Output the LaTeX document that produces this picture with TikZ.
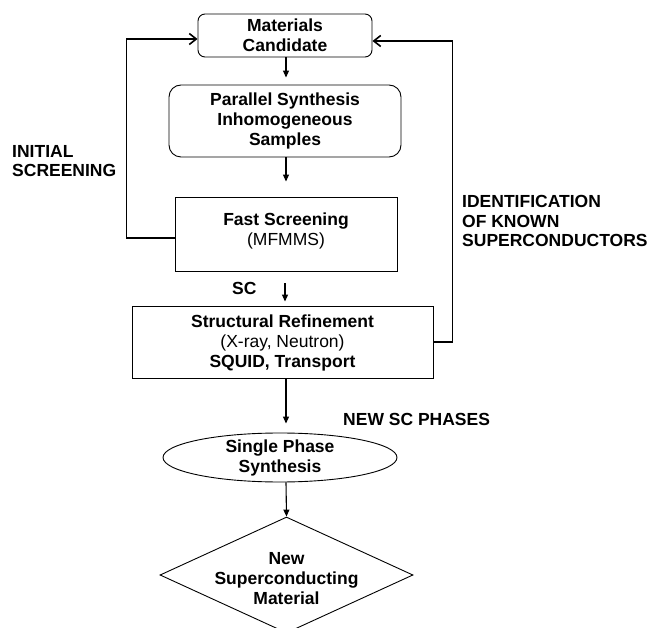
\documentclass[tikz,border=0pt]{standalone}
\usepackage{fontspec}
\setmainfont{Liberation Sans}
\usetikzlibrary{shapes.geometric,arrows.meta}
\tikzset{
  txt/.style={font=\fontsize{17.5}{20}\selectfont\bfseries, align=center, inner sep=0pt},
  lbl/.style={font=\fontsize{17.5}{19.5}\selectfont\bfseries, align=left, inner sep=0pt},
  boxshape/.style={draw, line width=0.9pt, inner sep=0pt, align=center,
    font=\fontsize{17.5}{20}\selectfont\bfseries},
  flow/.style={line width=1.1pt, -{Triangle[length=7pt,width=6pt]}},
  loop/.style={line width=1.8pt, -{Straight Barb[length=7pt,width=11pt,line width=1.6pt]}},
}
\begin{document}
\begin{tikzpicture}[x=1pt,y=-1pt]
\useasboundingbox (0,0) rectangle (651,628);
% boxes
\node[boxshape, rounded corners=7pt, minimum width=174pt, minimum height=43pt] (mc) at (285,35.5) {Materials\\Candidate};
\node[boxshape, rounded corners=12pt, minimum width=232pt, minimum height=72pt] (ps) at (285,121) {Parallel Synthesis\\Inhomogeneous\\Samples};
\node[boxshape, minimum width=222pt, minimum height=74pt] (fs) at (286,234) {};
\node[txt] at (286,231) {Fast Screening\\\mdseries (MFMMS)};
\node[boxshape, minimum width=301pt, minimum height=72pt] (sr) at (282.5,342) {};
\node[txt] at (282.5,343) {Structural Refinement\\\mdseries (X-ray, Neutron)\\SQUID, Transport};
\node[draw, line width=0.9pt, ellipse, minimum width=234pt, minimum height=49pt, inner sep=0pt] (sp) at (280,457.5) {};
\node[txt] at (280,457.5) {Single Phase\\Synthesis};
\node[draw, line width=0.9pt, diamond, minimum width=253pt, minimum height=116pt, inner sep=0pt] (nm) at (286.5,575) {};
\node[txt] at (286.5,579) {New\\Superconducting\\Material};
% labels
\node[lbl, anchor=north west] (lInit) at (12,145) {INITIAL\\SCREENING};
\node[lbl, anchor=north west] (lIdent) at (462,195.5) {IDENTIFICATION\\OF KNOWN\\SUPERCONDUCTORS};
\node[lbl, anchor=base west] (lNew) at (343,425) {NEW SC PHASES};
\node[lbl, anchor=base west] (lSC) at (232,295) {SC};
% flow arrows
\draw[flow, shorten >=7pt] (mc.south -| 286,0) -- (ps.north -| 286,0);
\draw[flow, shorten >=15pt] (ps.south -| 286,0) -- (fs.north -| 286,0);
\draw[flow, shorten <=12pt, shorten >=4pt] (fs.south -| 285,0) -- (sr.north -| 285,0);
\draw[flow, shorten >=9pt] (sr.south -| 286,0) -- (sp.north -| 286,0);
\draw[flow] (sp.south -| 286,0) -- (nm.north);
% feedback loops
\draw[loop] ([yshift=-4pt]fs.west) -- ++(-48,0) |- ([yshift=-3.5pt]mc.west);
\draw[loop] (sr.east) -- ++(19,0) |- ([yshift=-5.5pt]mc.east);
\end{tikzpicture}
\end{document}
